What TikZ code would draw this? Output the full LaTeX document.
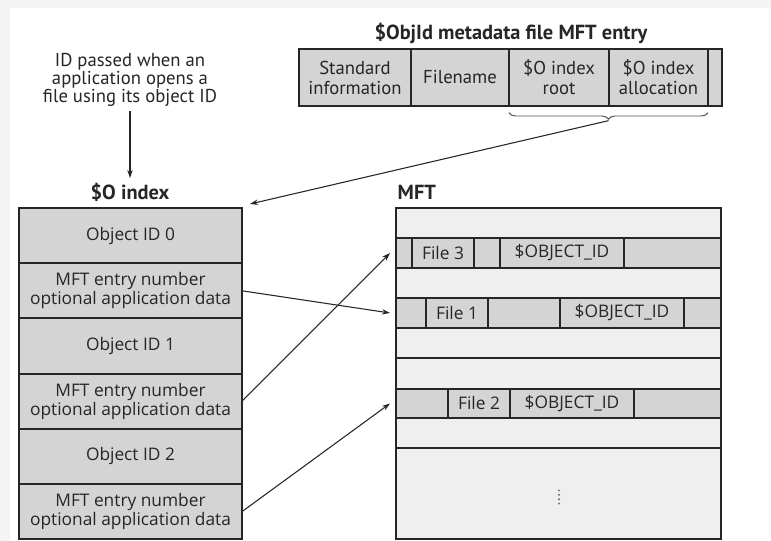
\documentclass[tikz,border=0pt]{standalone}
\usepackage{fontspec}
\setmainfont{Open Sans}
\newfontfamily\notefont{PT Sans}
\usetikzlibrary{arrows.meta,decorations.pathreplacing,positioning,calc}
\definecolor{edge}{HTML}{262626}
\definecolor{shade}{HTML}{D4D4D4}
\definecolor{pale}{HTML}{EFEFEF}
\definecolor{frame}{HTML}{F4F4F4}
\tikzset{
  cellbox/.style n args={2}{draw=edge, line width=1.4pt, fill=shade, inner sep=0pt, outer sep=0pt,
    anchor=north west, minimum width=#1*0.75pt, minimum height=#2*0.75pt, align=center,
    text=black!85, font=\fontsize{13}{14.25}\selectfont},
  note/.style={font=\notefont\fontsize{14}{15}\selectfont, align=center, text=black!85},
  heading/.style={font=\notefont\bfseries\fontsize{15.3}{17}\selectfont, text=black!85},
  link/.style={-{Stealth[length=6pt,width=4pt]}, line width=0.8pt, draw=edge},
}

\begin{document}
\begin{tikzpicture}[x=0.75pt,y=-0.75pt]
    \useasboundingbox (0,0) rectangle (771,541);
    % Page
    \fill[frame] (0,0) rectangle (771,541);
    \fill[white] (10,8) rectangle (771,541);
    % Metadata file entry
    \node[heading] (entrytitle) at (511,33) {\$ObjId metadata file MFT entry};
    \node[cellbox={112}{57}, note] (stdinfo) at (299,49) {Standard\\information};
    \node[cellbox={98}{57}, note] (fname) at (stdinfo.north east) {Filename};
    \node[cellbox={100}{57}, note] (idxroot) at (fname.north east) {\$O index\\root};
    \node[cellbox={99}{57}, note] (idxalloc) at (idxroot.north east) {\$O index\\allocation};
    \node[cellbox={14}{57}] (tailcell) at (idxalloc.north east) {};
    % Brace under the index attributes
    \draw[decorate, decoration={brace, mirror, amplitude=5pt}, draw=edge!80, line width=0.7pt]
        ([yshift=-5pt]idxroot.south west) -- ([yshift=-5pt]tailcell.south west);
    \coordinate (bracetip) at ($([yshift=-11pt]idxroot.south west)!0.5!([yshift=-11pt]tailcell.south west)$);
    % $O index
    \node[note, font=\notefont\fontsize{14}{13.5}\selectfont] (idnote) at (130,80)
        {ID passed when an\\application opens a\\file using its object ID};
    \node[heading] (idxtitle) at (130,192) {\$O index};
    \foreach \txt [count=\i from 0] in {Object ID 0, {MFT entry number\\optional application data},
        Object ID 1, {MFT entry number\\optional application data},
        Object ID 2, {MFT entry number\\optional application data}}
        \node[cellbox={223}{55.2}] (ob\i) at (19,{208+55.2*\i}) {\txt};
    \draw[link] (idnote) -- (idxtitle);
    \draw[link] (bracetip) -- ([xshift=6pt,yshift=3pt]ob0.north east);
    % MFT
    \node[heading, anchor=west] (mfttitle) at (393,192) {MFT};
    \foreach \top/\ht/\col [count=\i from 0] in {208/30/pale, 238/30/shade, 268/30/pale,
        298/30/shade, 328/30/pale, 358/31/pale, 389/29/shade, 418/30/pale, 448/91/pale}
        \node[cellbox={325}{\ht}, fill=\col] (mft\i) at (396,\top) {};
    % File records
    \node[cellbox={62}{30}] (file3) at (412,238) {File 3};
    \node[cellbox={26}{30}] (gap3) at (file3.north east) {};
    \node[cellbox={124}{30}] (oid3) at (gap3.north east) {\$OBJECT\_ID};
    \node[cellbox={62}{30}] (file1) at (426,298) {File 1};
    \node[cellbox={72}{30}] (gap1) at (file1.north east) {};
    \node[cellbox={124}{30}] (oid1) at (gap1.north east) {\$OBJECT\_ID};
    \node[cellbox={62}{29}] (file2) at (448,389) {File 2};
    \node[cellbox={124}{29}] (oid2) at (file2.north east) {\$OBJECT\_ID};
    \coordinate (dots) at (559,497);
    \foreach \dy in {-5,-1.7,1.7,5}
        \fill[edge!70] ([yshift=\dy pt]dots) circle (0.8pt);
    % Index entries point into the MFT
    \draw[link] (ob1.east) -- ([xshift=-4.5pt]mft3.west);
    \draw[link] (ob3.east) -- ([xshift=-4.5pt]mft1.west);
    \draw[link] (ob5.east) -- ([xshift=-4.5pt]mft6.west);
\end{tikzpicture}
\end{document}
